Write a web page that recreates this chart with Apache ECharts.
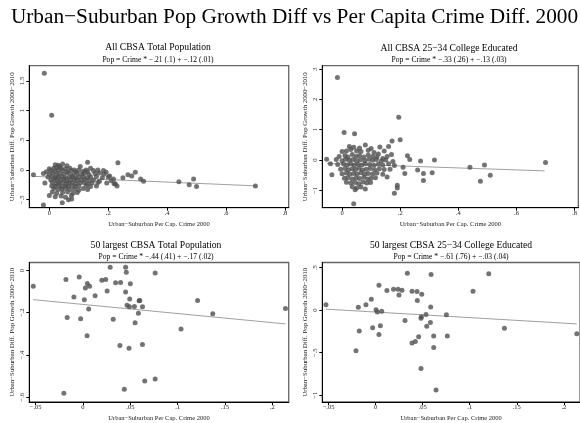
<!DOCTYPE html>
<html>
<head>
<meta charset="utf-8">
<script src="https://cdn.jsdelivr.net/npm/echarts@6/dist/echarts.min.js"></script>
<style>html,body{margin:0;padding:0;background:#fff}#c{width:580px;height:423px}</style>
</head>
<body>
<div id="c"></div>
<script>
// ---------- text ----------
const mainTitle = 'Urban\u2212Suburban Pop Growth Diff vs Per Capita Crime Diff. 2000';
const panelTitles = ['All CBSA Total Population', 'All CBSA 25\u221234 College Educated',
  '50 largest CBSA Total Population', '50 largest CBSA 25\u221234 College Educated'];
const panelSubtitles = ['Pop = Crime * \u2212.21 (.1) + \u2212.12 (.01)', 'Pop = Crime * \u2212.33 (.26) + \u2212.13 (.03)',
  'Pop = Crime * \u2212.44 (.41) + \u2212.17 (.02)', 'Pop = Crime * \u2212.61 (.76) + \u2212.03 (.04)'];
const yName = 'Urban\u2212Suburban Diff. Pop Growth 2000\u22122010';
const xName = 'Urban\u2212Suburban Per Cap. Crime 2000';

// ---------- tick labels ----------
const allXTicks = [0, 0.2, 0.4, 0.6, 0.8];
const bigXTicks = [-0.05, 0, 0.05, 0.1, 0.15, 0.2];
const tlYTicks = [-0.5, 0, 0.5, 1, 1.5];
const trYTicks = [-1, 0, 1, 2, 3];
const blYTicks = [-0.6, -0.4, -0.2, 0];
const brYTicks = [-1, -0.5, 0, 0.5];

// ---------- axis ranges ----------
const allXRange = [-0.068, 0.813];
const bigXRange = [-0.0567, 0.2172];
const tlYRange = [-0.635, 1.756];
const trYRange = [-1.57, 3.11];
const blYRange = [-0.623, 0.038];
const brYRange = [-1.08, 0.56];

// ---------- data: All CBSA total population ----------
const tlPoints = [
  [-0.017,1.63],[0.008,0.92],[-0.054,-0.08],[-0.02,-0.59],[0.044,-0.55],[0.065,-0.50],[0.076,-0.49],
  [0.13,0.13],[0.233,0.12],[0.292,-0.04],[0.28,-0.1],[0.267,-0.08],[0.31,-0.15],[0.32,-0.19],
  [0.44,-0.2],[0.49,-0.15],[0.475,-0.25],[0.50,-0.28],[0.70,-0.27],
  [0.184,-0.01],[0.193,-0.04],[0.218,-0.15],[0.224,-0.23],[0.23,-0.27],[0.25,-0.13],[0.205,-0.1],
  [0.03,0.08],[0.045,0.1],[0.06,0.07],[0.035,0.06],[0.02,0.09],
  [0.0,0.02],[0.015,0.03],[0.025,0.04],[0.04,0.03],[0.055,0.02],[0.07,0.03],[0.085,0.0],[0.105,0.06],[0.125,0.0],[0.14,0.03],
  [-0.01,-0.03],[0.005,-0.01],[0.02,-0.02],[0.03,0.0],[0.045,-0.01],[0.06,-0.03],[0.075,-0.01],[0.09,-0.03],[0.1,0.0],[0.115,-0.02],[0.13,-0.03],[0.15,-0.01],[0.165,0.0],
  [-0.02,-0.06],[0.0,-0.07],[0.012,-0.05],[0.025,-0.08],[0.035,-0.06],[0.05,-0.07],[0.065,-0.05],[0.08,-0.08],[0.095,-0.06],[0.11,-0.07],[0.12,-0.05],[0.135,-0.08],[0.155,-0.06],[0.17,-0.05],[0.185,-0.07],
  [-0.005,-0.12],[0.01,-0.11],[0.02,-0.13],[0.03,-0.12],[0.042,-0.11],[0.055,-0.13],[0.068,-0.12],[0.078,-0.11],[0.09,-0.13],[0.1,-0.12],[0.115,-0.11],[0.128,-0.13],[0.14,-0.12],[0.16,-0.11],[0.18,-0.13],[0.2,-0.12],
  [0.005,-0.17],[0.018,-0.16],[0.028,-0.18],[0.038,-0.17],[0.05,-0.16],[0.06,-0.18],[0.072,-0.17],[0.085,-0.16],[0.095,-0.18],[0.108,-0.17],[0.12,-0.16],[0.135,-0.18],[0.15,-0.17],[0.17,-0.19],[0.21,-0.18],
  [-0.015,-0.22],[0.01,-0.21],[0.022,-0.23],[0.033,-0.22],[0.045,-0.21],[0.057,-0.23],[0.066,-0.22],[0.078,-0.21],[0.09,-0.23],[0.105,-0.22],[0.118,-0.21],[0.13,-0.23],[0.145,-0.22],[0.165,-0.21],[0.195,-0.22],[0.22,-0.23],
  [0.008,-0.27],[0.02,-0.28],[0.032,-0.26],[0.043,-0.28],[0.055,-0.27],[0.065,-0.28],[0.076,-0.26],[0.088,-0.28],[0.1,-0.27],[0.125,-0.26],[0.14,-0.28],[0.16,-0.27],
  [0.015,-0.31],[0.03,-0.33],[0.042,-0.32],[0.055,-0.31],[0.07,-0.33],[0.085,-0.32],[0.1,-0.34],[0.115,-0.31],[0.13,-0.33],
  [0.01,-0.37],[0.025,-0.39],[0.045,-0.38],[0.062,-0.37],[0.08,-0.39],[0.095,-0.38],
  [0.0,-0.43],[0.02,-0.45],[0.04,-0.44],[0.055,-0.46],[0.075,-0.43]
];
const tlFit = [[-0.058,-0.106],[0.70,-0.267]];

// ---------- data: All CBSA 25-34 college educated ----------
const trPoints = [
  [-0.016,2.72],[0.007,0.91],[0.043,0.87],[0.04,-1.44],[0.195,1.41],[0.172,0.63],[0.2,0.67],
  [0.225,0.14],[0.233,0.02],[0.318,0.0],[0.27,-0.03],[0.44,-0.24],[0.49,-0.16],[0.476,-0.7],[0.51,-0.5],[0.70,-0.08],
  [0.18,-1.09],[0.19,-0.92],[0.19,-0.83],[0.28,-0.67],[0.31,-0.42],[0.28,-0.44],[0.26,-0.33],[0.21,-0.24],[0.216,-0.44],[-0.053,0.03],
  [-0.04,-0.12],[-0.035,-0.48],
  [0.025,0.45],[0.04,0.42],[0.06,0.4],[0.08,0.5],[0.1,0.38],[0.13,0.43],
  [0.0,0.28],[0.015,0.3],[0.03,0.35],[0.05,0.3],[0.065,0.28],[0.09,0.32],[0.11,0.25],[0.145,0.3],[0.16,0.45],[0.125,0.2],
  [-0.01,0.12],[0.01,0.15],[0.02,0.1],[0.035,0.18],[0.048,0.12],[0.06,0.15],[0.075,0.1],[0.09,0.17],[0.105,0.12],[0.12,0.1],[0.14,0.05],[0.155,0.12],[0.17,0.18],
  [-0.02,0.02],[0.0,-0.02],[0.012,0.03],[0.025,-0.01],[0.038,0.02],[0.05,-0.03],[0.063,0.01],[0.078,-0.02],[0.092,0.03],[0.105,-0.01],[0.118,0.02],[0.135,-0.03],[0.15,0.0],[0.175,-0.05],
  [-0.015,-0.15],[0.005,-0.13],[0.018,-0.16],[0.03,-0.12],[0.042,-0.17],[0.055,-0.14],[0.068,-0.16],[0.08,-0.12],[0.095,-0.15],[0.11,-0.17],[0.125,-0.13],[0.14,-0.16],[0.16,-0.12],[0.18,-0.18],
  [-0.005,-0.3],[0.01,-0.28],[0.022,-0.32],[0.035,-0.29],[0.046,-0.31],[0.058,-0.27],[0.07,-0.33],[0.083,-0.3],[0.097,-0.28],[0.112,-0.32],[0.128,-0.29],[0.145,-0.31],[0.165,-0.3],
  [0.0,-0.45],[0.015,-0.43],[0.027,-0.47],[0.04,-0.44],[0.052,-0.46],[0.065,-0.42],[0.078,-0.47],[0.09,-0.44],[0.105,-0.46],[0.12,-0.43],[0.14,-0.47],[0.155,-0.56],
  [0.008,-0.6],[0.02,-0.58],[0.035,-0.62],[0.048,-0.59],[0.06,-0.61],[0.075,-0.57],[0.088,-0.62],[0.1,-0.6],[0.115,-0.58],
  [0.015,-0.73],[0.03,-0.76],[0.045,-0.74],[0.058,-0.78],[0.072,-0.72],[0.085,-0.76],[0.098,-0.74],
  [0.035,-0.88],[0.05,-0.92],[0.065,-0.89],[0.08,-0.95],[0.045,-0.98]
];
const trFit = [[-0.053,-0.111],[0.697,-0.356]];

// ---------- data: 50 largest CBSA total population ----------
const blPoints = [
  [-0.0525,-0.074],[-0.018,-0.043],[-0.004,-0.031],[0.0046,-0.062],[0.0025,-0.083],[0.007,-0.075],
  [-0.0096,-0.126],[0.0014,-0.138],[0.0128,-0.12],[0.0199,-0.046],[0.024,-0.042],[0.0287,0.015],
  [0.0255,-0.097],[0.0344,-0.058],[0.0397,-0.057],[0.045,0.015],[0.0457,-0.008],[0.045,-0.102],
  [0.05,-0.063],[0.0493,-0.135],[0.0465,-0.165],[0.049,-0.172],[0.0543,-0.171],[0.0592,-0.143],
  [0.06,-0.142],[0.0628,-0.172],[0.0585,-0.202],[0.055,-0.248],[0.0762,-0.012],[0.006,-0.182],
  [-0.0167,-0.223],[-0.0025,-0.228],[0.0319,-0.231],[0.0043,-0.309],[0.039,-0.355],[0.0486,-0.368],
  [0.0628,-0.351],[0.1035,-0.277],[0.121,-0.142],[0.137,-0.205],[0.2138,-0.18],[0.0652,-0.523],
  [0.0762,-0.514],[0.0436,-0.562],[-0.0202,-0.582]
];
const blFit = [[-0.0525,-0.138],[0.2138,-0.253]];

// ---------- data: 50 largest CBSA 25-34 college educated ----------
const brPoints = [
  [-0.0528,0.062],[-0.0184,0.035],[-0.0103,0.062],[-0.0046,0.127],[0.0004,0.004],[0.0018,-0.023],
  [0.0064,-0.012],[0.0035,0.292],[0.012,0.231],[0.019,0.246],[0.0238,0.246],[0.028,0.235],
  [0.0248,0.177],[0.0337,0.435],[0.0387,0.223],[0.044,0.219],[0.0443,0.112],[0.049,0.188],
  [0.0589,0.419],[0.0585,0.038],[0.0312,-0.123],[0.0486,-0.077],[0.0482,-0.096],[0.0535,-0.05],
  [0.0582,-0.146],[0.0543,-0.188],[0.0457,-0.312],[0.0617,-0.304],[0.0752,-0.054],[0.0762,-0.304],
  [-0.0032,-0.208],[0.005,-0.185],[-0.0174,-0.246],[0.0035,-0.285],[0.0387,-0.385],[0.0422,-0.369],
  [0.0617,-0.438],[-0.0209,-0.477],[0.0482,-0.685],[0.0642,-0.938],[0.1035,0.223],[0.1202,0.427],
  [0.1369,-0.212],[0.2138,-0.277]
];
const brFit = [[-0.0528,0.0115],[0.2138,-0.162]];

// ---------- build ----------
const FONT = '"Liberation Serif","Times New Roman",serif';
const fmt = v => {
  let s = String(Math.abs(Math.round(v * 1000) / 1000));
  if (s.startsWith('0.')) s = s.slice(1);
  return (v < 0 ? '\u2212' : '') + s;
};
const panels = [
  {pts: tlPoints, fit: tlFit, xr: allXRange, yr: tlYRange, xt: allXTicks, yt: tlYTicks, left: 29.3, top: 65.7, h: 142},
  {pts: trPoints, fit: trFit, xr: allXRange, yr: trYRange, xt: allXTicks, yt: trYTicks, left: 322.3, top: 65.7, h: 142},
  {pts: blPoints, fit: blFit, xr: bigXRange, yr: blYRange, xt: bigXTicks, yt: blYTicks, left: 29.3, top: 262.5, h: 143},
  {pts: brPoints, fit: brFit, xr: bigXRange, yr: brYRange, xt: bigXTicks, yt: brYTicks, left: 322.3, top: 262.5, h: 143}
];
const W = 259.4;
const titleCx = [158, 449, 156, 451];
const titleY = [47.5, 48.5, 245.5, 245.5];
const subY = [59.5, 59.5, 256.5, 256.5];

const grid = [], xAxis = [], yAxis = [], series = [], graphic = [];
graphic.push({type: 'text', x: 294.5, y: 17, style: {text: mainTitle, font: '21.3px ' + FONT, fill: '#000', align: 'center', verticalAlign: 'middle'}});
panels.forEach((p, i) => {
  grid.push({left: p.left, top: p.top, width: W, height: p.h, show: true, borderColor: '#666', borderWidth: 1.3, backgroundColor: '#fff'});
  xAxis.push({
    type: 'value', gridIndex: i, min: p.xr[0], max: p.xr[1],
    name: xName, nameLocation: 'middle', nameGap: 13,
    nameTextStyle: {fontFamily: FONT, fontSize: 6.5, color: '#222'},
    axisLine: {show: true, onZero: false, lineStyle: {color: '#000', width: 1}},
    axisTick: {show: true, length: 3, customValues: p.xt, lineStyle: {color: '#000'}},
    axisLabel: {customValues: p.xt, formatter: fmt, fontFamily: FONT, fontSize: 6.5, color: '#222', margin: 2},
    splitLine: {show: false}
  });
  yAxis.push({
    type: 'value', gridIndex: i, min: p.yr[0], max: p.yr[1],
    name: yName, nameLocation: 'middle', nameRotate: 90, nameGap: 14,
    nameTextStyle: {fontFamily: FONT, fontSize: 6.8, color: '#222'},
    axisLine: {show: true, onZero: false, lineStyle: {color: '#000', width: 1}},
    axisTick: {show: true, length: 3, customValues: p.yt, lineStyle: {color: '#000'}},
    axisLabel: {customValues: p.yt, formatter: fmt, rotate: 90, fontFamily: FONT, fontSize: 6.5, color: '#222', margin: 4},
    splitLine: {show: false}
  });
  series.push({
    type: 'scatter', xAxisIndex: i, yAxisIndex: i, data: p.pts, symbol: 'circle', symbolSize: 5,
    itemStyle: {color: '#505050'}, emphasis: {disabled: true}, z: 3
  });
  series.push({
    type: 'line', xAxisIndex: i, yAxisIndex: i, data: p.fit, symbol: 'none',
    lineStyle: {color: '#a0a0a0', width: 1}, emphasis: {disabled: true}, z: 2
  });
  graphic.push({type: 'text', x: titleCx[i], y: titleY[i], style: {text: panelTitles[i], font: '9.6px ' + FONT, fill: '#000', align: 'center', verticalAlign: 'middle'}});
  graphic.push({type: 'text', x: titleCx[i], y: subY[i], style: {text: panelSubtitles[i], font: '7.6px ' + FONT, fill: '#000', align: 'center', verticalAlign: 'middle'}});
});

const chart = echarts.init(document.getElementById('c'), null, {renderer: 'canvas'});
chart.setOption({animation: false, backgroundColor: '#fff', grid, xAxis, yAxis, series, graphic});
</script>
</body>
</html>
